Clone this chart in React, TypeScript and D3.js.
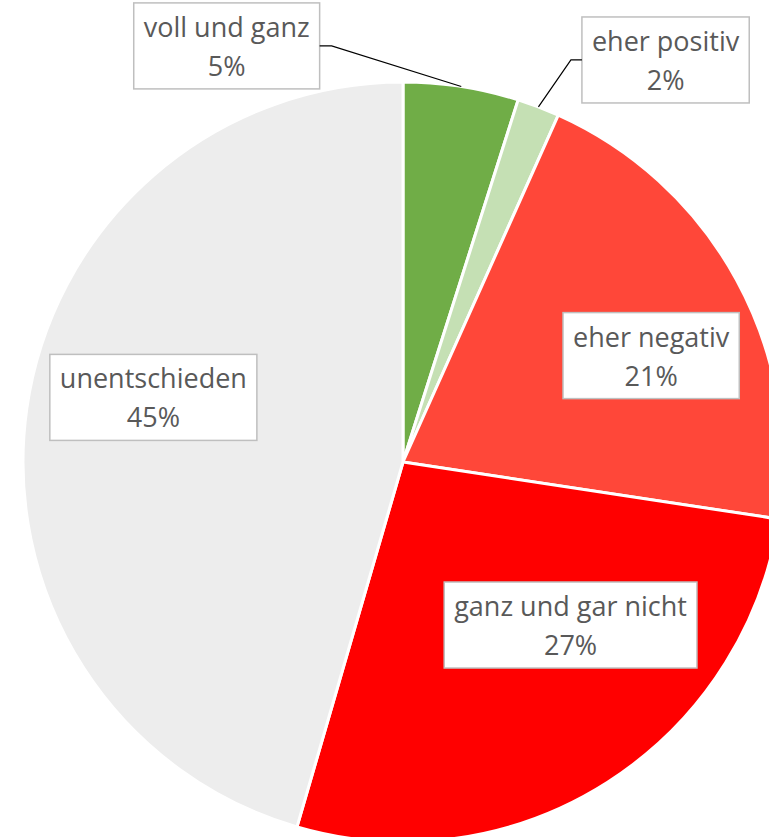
import React, { useEffect, useRef } from 'react';
import * as d3 from 'd3';

// Slice data, clockwise from 12 o'clock
const categories = ['voll und ganz', 'eher positiv', 'eher negativ', 'ganz und gar nicht', 'unentschieden'];
const shares = [4.9, 1.8, 20.7, 27.1, 45.5];
const percentLabels = ['5%', '2%', '21%', '27%', '45%'];
const sliceColors = ['#70AD47', '#C5E0B4', '#FF4739', '#FF0000', '#EDEDED'];

// label box centres, in units of the pie radius, relative to the pie centre
const labelPos: [number, number][] = [
  [-0.464, -1.095],
  [0.691, -1.058],
  [0.653, -0.28],
  [0.441, 0.429],
  [-0.657, -0.17],
];
// which labels get a leader line, and on which side of the box it starts
const leaderSide = ['right', 'left', null, null, null];

const App = () => {
  const svgRef = useRef<SVGSVGElement>(null);

  useEffect(() => {
    document.body.style.margin = '0';
    const width = 769;
    const height = 837;
    const cx = 403;
    const cy = 462;
    const radius = 380;

    const svg = d3.select(svgRef.current).attr('width', width).attr('height', height);
    svg.selectAll('*').remove();

    const chart = svg.append('g').attr('transform', `translate(${cx},${cy})`);

    const pie = d3.pie<number>().sort(null).value(d => d);
    const arcs = pie(shares);
    const arc = d3.arc<d3.PieArcDatum<number>>().innerRadius(0).outerRadius(radius);

    chart.selectAll('.slice')
      .data(arcs)
      .enter()
      .append('path')
      .attr('class', 'slice')
      .attr('d', arc)
      .attr('fill', (d, i) => sliceColors[i])
      .attr('stroke', '#fff')
      .attr('stroke-width', 3)
      .attr('stroke-linejoin', 'round');

    const fontSize = 27;
    const font = '"Open Sans", sans-serif';
    const padX = 10;
    const boxH = 86;

    const labels = chart.selectAll('.label')
      .data(arcs)
      .enter()
      .append('g')
      .attr('class', 'label');

    labels.each(function (d, i) {
      const g = d3.select(this);
      const lx = labelPos[i][0] * radius;
      const ly = labelPos[i][1] * radius;

      const rect = g.append('rect');
      const t1 = g.append('text')
        .attr('x', lx)
        .attr('y', ly - 9)
        .attr('text-anchor', 'middle')
        .attr('font-family', font)
        .attr('font-size', fontSize)
        .attr('fill', '#595959')
        .text(categories[i]);
      g.append('text')
        .attr('x', lx)
        .attr('y', ly + 30)
        .attr('text-anchor', 'middle')
        .attr('font-family', font)
        .attr('font-size', fontSize)
        .attr('fill', '#595959')
        .text(percentLabels[i]);

      const tw = (t1.node() as SVGTextElement).getComputedTextLength();
      const boxW = tw + padX * 2;
      rect
        .attr('x', lx - boxW / 2)
        .attr('y', ly - boxH / 2)
        .attr('width', boxW)
        .attr('height', boxH)
        .attr('fill', '#fff')
        .attr('stroke', '#BFBFBF')
        .attr('stroke-width', 1.5);

      const side = leaderSide[i];
      if (side) {
        const mid = (d.startAngle + d.endAngle) / 2;
        const ex = Math.sin(mid) * radius;
        const ey = -Math.cos(mid) * radius;
        const sx = side === 'right' ? lx + boxW / 2 : lx - boxW / 2;
        const kx = side === 'right' ? sx + 12 : sx - 11;
        const sy = ly;
        chart.append('path')
          .attr('d', d3.line()([[sx, sy], [kx, sy], [ex, ey]]))
          .attr('fill', 'none')
          .attr('stroke', '#000')
          .attr('stroke-width', 1.2);
      }
    });
  }, []);

  return <svg ref={svgRef} style={{ display: 'block' }} />;
};

export default App;
